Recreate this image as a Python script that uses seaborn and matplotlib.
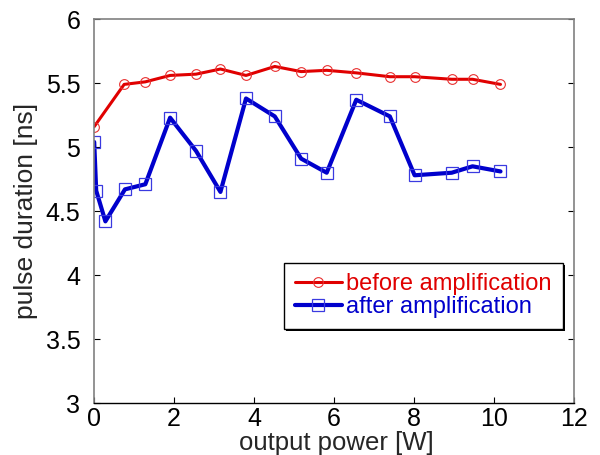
import numpy as np
import pandas as pd
import matplotlib
matplotlib.use('Agg')
import matplotlib.pyplot as plt
import matplotlib.patheffects as pe
import seaborn as sns

# output power [W]
power_before = [0, 0.75, 1.28, 1.9, 2.55, 3.16, 3.8, 4.52, 5.18, 5.82, 6.56, 7.4, 8.02, 8.95, 9.47, 10.17]
duration_before = [5.16, 5.49, 5.51, 5.56, 5.57, 5.61, 5.56, 5.63, 5.59, 5.60, 5.58, 5.55, 5.55, 5.53, 5.53, 5.49]

power_after = [0, 0.05, 0.28, 0.77, 1.28, 1.9, 2.55, 3.16, 3.8, 4.52, 5.18, 5.82, 6.56, 7.4, 8.02, 8.95, 9.47, 10.17]
duration_after = [5.04, 4.66, 4.42, 4.67, 4.71, 5.23, 4.97, 4.65, 5.38, 5.24, 4.91, 4.80, 5.37, 5.24, 4.78, 4.80, 4.85, 4.81]

df_before = pd.DataFrame({'power': power_before, 'duration': duration_before})
df_after = pd.DataFrame({'power': power_after, 'duration': duration_after})

sns.set_theme(style='white')
plt.rcParams['font.family'] = ['Liberation Sans', 'DejaVu Sans']

fig = plt.figure(figsize=(6, 4.55), dpi=100)
ax = fig.add_axes([0.157, 0.114, 0.799, 0.844])

sns.lineplot(data=df_before, x='power', y='duration', ax=ax, sort=False,
             color='#e00000', linewidth=2.2, marker='o', markersize=7,
             markerfacecolor='none', markeredgecolor='#e83030', markeredgewidth=0.8,
             label='before amplification')
sns.lineplot(data=df_after, x='power', y='duration', ax=ax, sort=False,
             color='#0000cc', linewidth=3, marker='s', markersize=9,
             markerfacecolor='none', markeredgecolor='#3a3ae0', markeredgewidth=0.9,
             label='after amplification')

ax.set_xlim(0, 12)
ax.set_ylim(3, 6)
ax.set_xticks(range(0, 13, 2))
ax.set_yticks(np.arange(3, 6.01, 0.5))
ax.set_yticklabels(['3', '3.5', '4', '4.5', '5', '5.5', '6'])
ax.tick_params(direction='in', length=4, width=0.8, colors='black', labelsize=18,
               top=False, right=True, left=True, bottom=True)
ax.tick_params(axis='x', pad=3)
ax.tick_params(axis='y', pad=10)
for side in ['left', 'top', 'right']:
    ax.spines[side].set_color('#808080')
    ax.spines[side].set_linewidth(1.2)
ax.spines['bottom'].set_color('black')
ax.spines['bottom'].set_linewidth(1)

ax.set_xlabel('output power [W]', fontsize=18.5)
ax.set_ylabel('pulse duration [ns]', fontsize=19)
ax.xaxis.set_label_coords(0.505, -0.072)
ax.yaxis.set_label_coords(-0.117, 0.5)

leg = ax.legend(loc='lower right', bbox_to_anchor=(0.977, 0.193), fontsize=17,
                frameon=True, fancybox=False, shadow=False,
                edgecolor='black', handlelength=2.0, handletextpad=0.2,
                borderpad=0.45, labelspacing=0.05, borderaxespad=0)
frame = leg.get_frame()
frame.set_linewidth(1)
frame.set_alpha(1)
frame.set_path_effects([pe.SimplePatchShadow(offset=(1.5, -1.5), shadow_rgbFace='black', alpha=1),
                        pe.Normal()])
for txt, col in zip(leg.get_texts(), ['#e00000', '#0000cc']):
    txt.set_color(col)

fig.savefig('out.png', dpi=100)
